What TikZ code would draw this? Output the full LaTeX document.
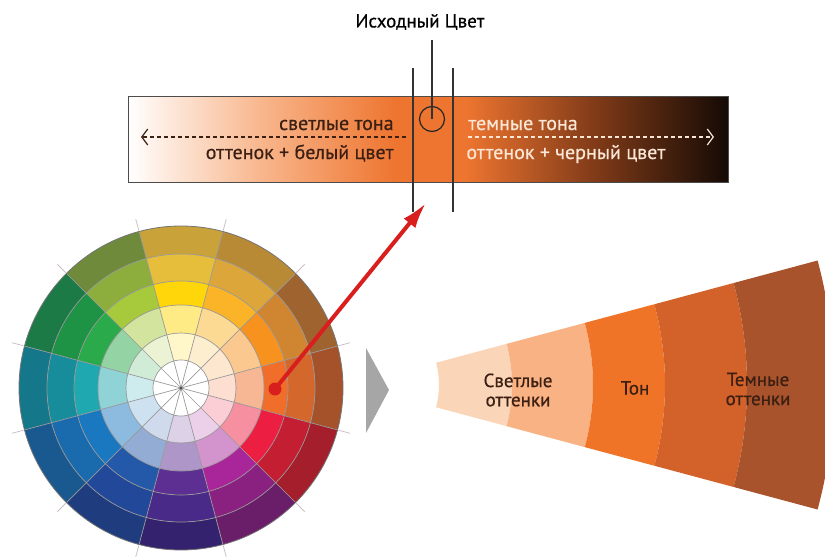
\documentclass[tikz,border=0pt]{standalone}
\usepackage{fontspec}
\setmainfont{PT Sans}[FakeBold=0.6]
\usepackage{tikz}
\usetikzlibrary{arrows.meta}
\usetikzlibrary{positioning}
\definecolor{barorange}{HTML}{EE7530}
\definecolor{barpeach}{HTML}{F8B68C}
\definecolor{barbrown}{HTML}{7F3A18}
\definecolor{barblack}{HTML}{140A05}
\definecolor{txtdark}{HTML}{3B1F12}
\definecolor{txtlight}{HTML}{FCE6D6}
\definecolor{arrowred}{HTML}{D91E1E}
\definecolor{fanA}{HTML}{FBD5B8}
\definecolor{fanB}{HTML}{F8B283}
\definecolor{fanC}{HTML}{F07428}
\definecolor{fanD}{HTML}{D2622A}
\definecolor{fanE}{HTML}{A8532B}
\tikzset{barlbl/.style = {font=\fontsize{10}{11}\selectfont, inner sep=0}}
\tikzset{fanlbl/.style = {font=\fontsize{9.5}{9.6}\selectfont, align=center, text=txtdark, inner sep=0}}
\tikzset{vline/.style = {draw=black!80, line width=0.6pt}}
\tikzset{spoke/.style = {draw=black!40, line width=0.35pt}}
\tikzset{tick/.style = {draw=violet!25!gray!40, line width=0.4pt}}
\tikzset{dasharrow/.style = {dash pattern=on 2pt off 1.5pt, line width=0.6pt, -{Straight Barb[length=3pt,width=8pt]}}}
\tikzset{redarrow/.style = {draw=arrowred, line width=2pt, -{Latex[length=13pt,width=7.5pt]}}}

\begin{document}
\begin{tikzpicture}[x=0.5pt,y=-0.5pt]
        \useasboundingbox (0,0) rectangle (825,557);
        % tone bar
        \shade [left color=white, right color=barorange, middle color=barpeach] (128,96) rectangle (395,182);
        \fill [barorange] (395,96) rectangle (465,182);
        \shade [left color=barorange, right color=barblack, middle color=barbrown] (465,96) rectangle (728,182);
        \node [draw=black!70, line width=0.5pt, minimum width=300pt, minimum height=43pt, inner sep=0] (bar) at (428,139) {};
        \node [barlbl, text=txtdark, anchor=base east] (light) at (394,130) {светлые тона};
        \node [barlbl, text=txtdark, anchor=base east] (lightmix) at (394,159) {оттенок + белый цвет};
        \node [barlbl, text=txtlight, anchor=base west] (dark) at (468,130) {темные тона};
        \node [barlbl, text=txtlight, anchor=base west] (darkmix) at (466,159) {оттенок + черный цвет};
        \coordinate (lfrom) at (406,137);
        \coordinate (lto) at (141,137);
        \coordinate (rfrom) at (468,137);
        \coordinate (rto) at (714,137);
        \draw [dasharrow, draw=txtdark] (lfrom) -- (lto);
        \draw [dasharrow, draw=txtlight] (rfrom) -- (rto);
        % source colour marks
        \node [font=\fontsize{9.5}{11}\selectfont, inner sep=0] (title) at (420,22) {Исходный Цвет};
        \node [draw=black!85, circle, minimum size=12.5pt, inner sep=0, line width=0.6pt] (orig) at (432,119) {};
        \coordinate (ttop) at (432,40);
        \draw [vline] (ttop) -- (orig.center);
        \coordinate (atop) at (413,68);
        \coordinate (abot) at (413,212);
        \coordinate (btop) at (453,68);
        \coordinate (bbot) at (453,212);
        \draw [vline] (atop) -- (abot);
        \draw [vline] (btop) -- (bbot);
        % colour wheel
        \begin{scope}[shift={(181,388)}]
            \foreach \hc/\ca/\cb [count=\i from 0] in {F06E2A/D4682C/A5522A, F7921E/D08530/9F6330, FBB428/DDA63A/B98A36, FFD60A/E6BE3C/C9A23A, A6CA3C/8DAE3C/6E8A3A, 2AAA4A/1E9245/1B7A45, 20A8B0/178C9A/15788A, 1A78C0/1A6AAE/1A5890, 2458A8/22489A/1E3C7E, 5E2F92/4A2A88/35226E, A8269A/8A2080/6A1E6A, EC1E42/C41E32/A51E2C}{
                \definecolor{hue}{HTML}{\hc}
                \definecolor{shA}{HTML}{\ca}
                \definecolor{shB}{HTML}{\cb}
                \pgfmathsetmacro\a{15-30*\i}
                \pgfmathsetmacro\b{-15-30*\i}
                \foreach \ri/\ro/\c in {28/55/hue!22!white, 55/83/hue!50!white, 83/107/hue, 107/134/shA, 134/162/shB}
                    \fill [\c] (\a:\ri) arc [start angle=\a, end angle=\b, radius=\ri] -- (\b:\ro) arc [start angle=\b, end angle=\a, radius=\ro] -- cycle;
            }
            \foreach \t in {15,45,...,345} {
                \draw [spoke] (0,0) -- (\t:162);
                \draw [tick] (\t:163) -- (\t:175);
            }
            \foreach \r in {28,55,83,107,134}
                \draw [spoke] (0,0) circle [radius=\r];
            \draw [draw=black!55, line width=0.4pt] (0,0) circle [radius=162];
            \fill [black!70] (0,0) circle [radius=1.5];
        \end{scope}
        \node [circle, fill=arrowred, minimum size=6.5pt, inner sep=0] (pick) at (275,389) {};
        \coordinate (target) at (426,203);
        \draw [redarrow] (pick.center) -- (target);
        % pointer
        \fill [black!35] (366,348) -- (389,390) -- (366,433) -- cycle;
        % tone fan
        \begin{scope}
            \clip (0,0) rectangle (825,557);
            \foreach \ri/\ro/\c in {86/159/fanA, 159/240/fanB, 240/312/fanC, 312/394/fanD, 394/481/fanE}
                \fill [\c, shift={(353,385)}] (-15:\ri) arc [start angle=-15, end angle=15, radius=\ri] -- (15:\ro) arc [start angle=15, end angle=-15, radius=\ro] -- cycle;
        \end{scope}
        \node [fanlbl] (lightsh) at (518,390) {Светлые\\оттенки};
        \node [fanlbl] (tone) at (635,388) {Тон};
        \node [fanlbl] (darksh) at (758,389) {Темные\\оттенки};
    \end{tikzpicture}
\end{document}
